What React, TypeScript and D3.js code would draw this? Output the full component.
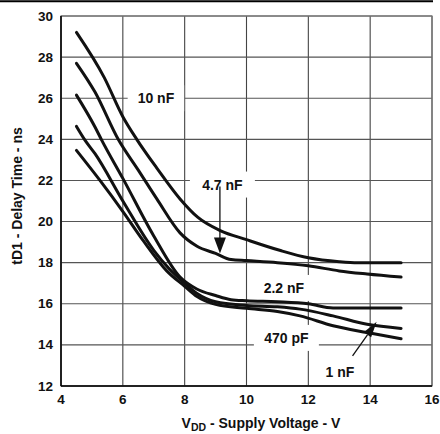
import React from "react";
import * as d3 from "d3";

const xTicks = [4, 6, 8, 10, 12, 14, 16];
const yTicks = [12, 14, 16, 18, 20, 22, 24, 26, 28, 30];

const v10nF = [4.5, 5.4, 6.0, 6.45, 7.1, 7.85, 8.43, 9.15, 10.0, 11.1, 12.0, 13.0, 13.6, 15.0];
const t10nF = [29.2, 27.0, 25.1, 24.0, 22.6, 21.1, 20.2, 19.56, 19.12, 18.59, 18.24, 18.05, 18.0, 18.0];

const v4n7F = [4.5, 5.1, 5.85, 6.5, 7.1, 7.85, 8.4, 9.0, 9.5, 10.0, 11.0, 12.0, 13.0, 13.9, 15.0];
const t4n7F = [27.7, 26.3, 24.0, 22.5, 21.1, 19.45, 18.8, 18.45, 18.15, 18.1, 18.0, 17.85, 17.6, 17.45, 17.3];

const v2n2F = [4.5, 5.1, 5.32, 6.0, 7.0, 7.85, 8.39, 9.0, 9.5, 10.0, 11.0, 12.0, 12.8, 15.0];
const t2n2F = [26.15, 24.6, 23.95, 22.1, 19.3, 17.3, 16.72, 16.4, 16.2, 16.15, 16.1, 16.0, 15.8, 15.8];

const v1nF = [4.5, 4.78, 5.1, 6.0, 7.0, 7.5, 8.0, 8.4, 9.0, 10.0, 11.0, 11.73, 12.8, 13.9, 15.0];
const t1nF = [24.63, 23.95, 23.3, 21.0, 18.6, 17.7, 17.0, 16.5, 16.1, 15.92, 15.85, 15.74, 15.41, 15.0, 14.8];

const v470pF = [4.5, 5.26, 6.02, 6.66, 7.42, 8.0, 8.4, 9.0, 10.0, 11.0, 11.73, 12.8, 13.9, 15.0];
const t470pF = [23.46, 22.0, 20.45, 19.07, 17.6, 16.85, 16.35, 15.97, 15.78, 15.62, 15.41, 14.93, 14.6, 14.3];

const seriesNames = ["10 nF", "4.7 nF", "2.2 nF", "1 nF", "470 pF"];
const seriesV = [v10nF, v4n7F, v2n2F, v1nF, v470pF];
const seriesT = [t10nF, t4n7F, t2n2F, t1nF, t470pF];

// label anchor points in data units (center of text)
const labelX = [7.07, 9.22, 11.21, 13.02, 11.29];
const labelY = [26.0, 21.8, 16.77, 12.68, 14.34];

const FONT = "'Liberation Sans', Arial, Helvetica, sans-serif";

export default function App() {
  const x = d3.scaleLinear().domain([4, 16]).range([61, 432]);
  const y = d3.scaleLinear().domain([12, 30]).range([386, 16]);

  const line = d3
    .line<[number, number]>()
    .x((d) => x(d[0]))
    .y((d) => y(d[1]))
    .curve(d3.curveMonotoneX);

  const paths = seriesV.map((vs, i) =>
    line(vs.map((v, j) => [v, seriesT[i][j]] as [number, number]))
  );

  const boxes = seriesNames.map((name, i) => {
    const cx = x(labelX[i]);
    const cy = y(labelY[i]);
    const w = name.length * 8.5 + 14;
    return { cx, cy, w, h: 26 };
  });

  // 4.7 nF arrow (vertical)
  const a1x = x(9.14);
  const a1y0 = y(21.7);
  const a1tip = y(18.45);
  // 1 nF arrow
  const a2x0 = x(13.43);
  const a2y0 = y(13.46);
  const a2x1 = x(14.21);
  const a2y1 = y(15.13);
  const dx = a2x1 - a2x0;
  const dy = a2y1 - a2y0;
  const len = Math.sqrt(dx * dx + dy * dy);
  const ux = dx / len;
  const uy = dy / len;
  const headL = 16;
  const headW = 4.5;
  const bx = a2x1 - ux * headL;
  const by = a2y1 - uy * headL;

  return (
    <svg
      width={440}
      height={434}
      style={{ position: "absolute", left: 0, top: 0, background: "#fff" }}
    >
      <rect x={0} y={0} width={440} height={434} fill="#fff" />
      <line x1={0} x2={433} y1={1.2} y2={1.2} stroke="#000" strokeWidth={2} />

      {/* grid */}
      {xTicks.map((t) => (
        <line key={"gx" + t} x1={x(t)} x2={x(t)} y1={y(30)} y2={y(12)} stroke="#444" strokeWidth={1.1} />
      ))}
      {yTicks.map((t) => (
        <line key={"gy" + t} x1={x(4)} x2={x(16)} y1={y(t)} y2={y(t)} stroke="#555" strokeWidth={1.1} />
      ))}
      <rect x={x(4)} y={y(30)} width={x(16) - x(4)} height={y(12) - y(30)} fill="none" stroke="#777" strokeWidth={1.2} />

      {/* label boxes */}
      {boxes.map((b, i) => (
        <rect key={"b" + i} x={b.cx - b.w / 2} y={b.cy - b.h / 2} width={b.w} height={b.h} fill="#fff" />
      ))}

      {/* axes */}
      <line x1={x(4)} x2={x(4)} y1={y(30)} y2={y(12)} stroke="#000" strokeWidth={1.5} />
      <line x1={x(4)} x2={x(16)} y1={y(12)} y2={y(12)} stroke="#000" strokeWidth={1.5} />

      {/* curves */}
      {paths.map((p, i) => (
        <path key={"p" + i} d={p || ""} fill="none" stroke="#111" strokeWidth={3} strokeLinejoin="round" strokeLinecap="round" />
      ))}

      {/* labels */}
      {seriesNames.map((n, i) => (
        <text
          key={"l" + i}
          x={x(labelX[i])}
          y={y(labelY[i])}
          textAnchor="middle"
          dominantBaseline="central"
          fontFamily={FONT}
          fontWeight="bold"
          fontSize={14}
          fill="#111"
        >
          {n}
        </text>
      ))}

      {/* arrows */}
      <line x1={a1x} x2={a1x} y1={a1y0} y2={a1tip - 14} stroke="#111" strokeWidth={1.3} />
      <path d={`M${a1x - 6},${a1tip - 16} L${a1x + 6},${a1tip - 16} L${a1x},${a1tip} Z`} fill="#111" />
      <line x1={a2x0} y1={a2y0} x2={bx} y2={by} stroke="#111" strokeWidth={1.3} />
      <path
        d={`M${bx - uy * headW},${by + ux * headW} L${bx + uy * headW},${by - ux * headW} L${a2x1},${a2y1} Z`}
        fill="#111"
      />

      {/* tick labels */}
      {xTicks.map((t) => (
        <text key={"tx" + t} x={x(t)} y={404} textAnchor="middle" fontFamily={FONT} fontWeight="bold" fontSize={13.5} fill="#111">
          {t}
        </text>
      ))}
      {yTicks.map((t) => (
        <text key={"ty" + t} x={53} y={y(t)} textAnchor="end" dominantBaseline="central" fontFamily={FONT} fontWeight="bold" fontSize={13.5} fill="#111">
          {t}
        </text>
      ))}

      {/* axis titles */}
      <text x={261} y={428} textAnchor="middle" fontFamily={FONT} fontWeight="bold" fontSize={14} fill="#111">
        V<tspan fontSize={10.5} dy={3}>DD</tspan>
        <tspan dy={-3}> - Supply Voltage - V</tspan>
      </text>
      <text
        transform={`translate(22,196) rotate(-90)`}
        textAnchor="middle"
        fontFamily={FONT}
        fontWeight="bold"
        fontSize={14}
        fill="#111"
      >
        tD1 - Delay Time - ns
      </text>
    </svg>
  );
}
